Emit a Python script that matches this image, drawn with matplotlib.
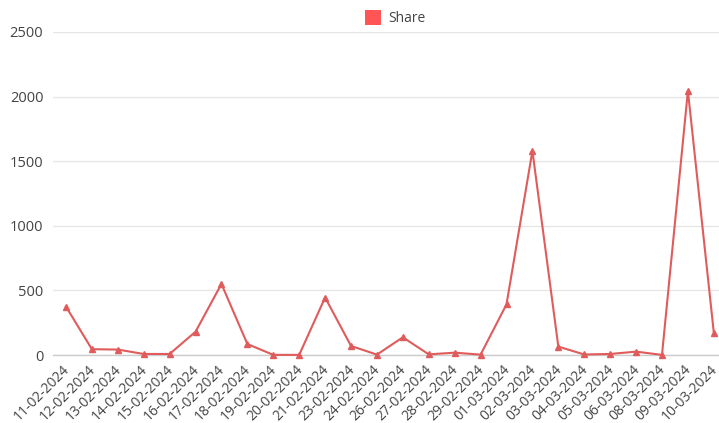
import matplotlib
matplotlib.use("Agg")
import matplotlib.pyplot as plt
import matplotlib.transforms as mtransforms
from matplotlib.patches import Patch

dates = ["11-02-2024", "12-02-2024", "13-02-2024", "14-02-2024", "15-02-2024",
         "16-02-2024", "17-02-2024", "18-02-2024", "19-02-2024", "20-02-2024",
         "21-02-2024", "23-02-2024", "24-02-2024", "26-02-2024", "27-02-2024",
         "28-02-2024", "29-02-2024", "01-03-2024", "02-03-2024", "03-03-2024",
         "04-03-2024", "05-03-2024", "06-03-2024", "08-03-2024", "09-03-2024",
         "10-03-2024"]
share = [375, 45, 42, 8, 8, 180, 550, 85, 1, 1, 445, 70, 3, 137, 5,
         18, 3, 392, 1580, 65, 4, 8, 26, 1, 2045, 172]
y_ticks = [0, 500, 1000, 1500, 2000, 2500]

plt.rcParams['font.family'] = ['Open Sans', 'DejaVu Sans']

fig = plt.figure(figsize=(7.19, 4.23), dpi=100)
ax = fig.add_axes([53 / 719, 1 - 355 / 423, (719 - 53) / 719, (355 - 32) / 423])

line_color = "#e05c5c"
x = list(range(len(dates)))
ax.plot(x, share, color=line_color, linewidth=1.5, marker="^", markersize=5,
        markerfacecolor=line_color, markeredgecolor=line_color, clip_on=False, zorder=3)

ax.set_ylim(0, 2500)
ax.set_xlim(-0.5, len(dates) - 0.8)
ax.set_yticks(y_ticks)
ax.set_yticklabels([str(v) for v in y_ticks])
ax.set_xticks(x)
ax.set_xticklabels(dates, rotation=45, ha="right", va="top", rotation_mode="anchor")

ax.grid(axis="y", color="#e6e6e6", linewidth=1)
ax.set_axisbelow(True)
for side in ["top", "right", "left"]:
    ax.spines[side].set_visible(False)
ax.spines["bottom"].set_color("#cccccc")
ax.spines["bottom"].set_linewidth(1)
ax.tick_params(axis="both", length=0, colors="#444444", labelsize=10.5)
ax.tick_params(axis="y", pad=7)
ax.tick_params(axis="x", pad=5, labelsize=10)

# nudge the rotated date labels a few pixels left so the last one stays on the canvas
shift = mtransforms.ScaledTranslation(-4 / 100, 0, fig.dpi_scale_trans)
for lbl in ax.get_xticklabels():
    lbl.set_transform(lbl.get_transform() + shift)

handle = Patch(facecolor="#ff5555", edgecolor="none", label="Share")
fig.legend(handles=[handle], loc="upper center", bbox_to_anchor=(395 / 719, 1.005),
           frameon=False, fontsize=10, handlelength=1.2, handleheight=1.2,
           handletextpad=0.5, labelcolor="#444444")

fig.savefig("out.png", dpi=100, facecolor="white")
